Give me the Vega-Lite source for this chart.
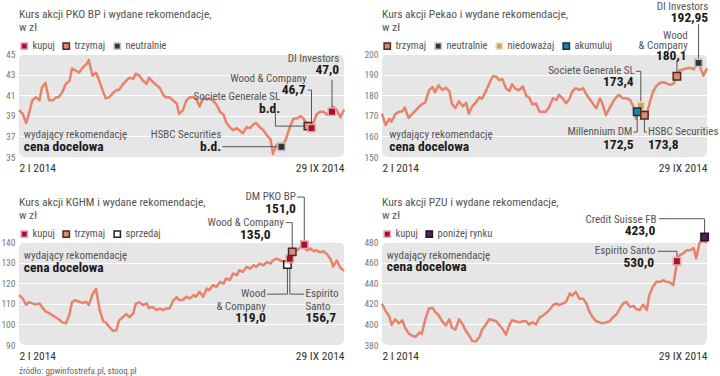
{
  "$schema": "https://vega.github.io/schema/vega-lite/v6.json",
  "padding": {"left": 0, "top": 1, "right": 0, "bottom": 0},
  "datasets": {
    "prices": [
      {"d":"2014-01-02","pko":39.55,"pekao":171.1,"kghm":114.2,"pzu":420},
      {"d":"2014-01-05","pko":39.2,"pekao":165.5,"kghm":112.6,"pzu":413},
      {"d":"2014-01-08","pko":38.3,"pekao":168.5,"kghm":109.5,"pzu":408},
      {"d":"2014-01-10","pko":39.1,"pekao":167.2,"kghm":110.8,"pzu":399.5},
      {"d":"2014-01-13","pko":40.5,"pekao":170.8,"kghm":110.2,"pzu":405},
      {"d":"2014-01-16","pko":40.8,"pekao":172,"kghm":109.7,"pzu":401},
      {"d":"2014-01-19","pko":40.5,"pekao":172.2,"kghm":110.2,"pzu":404},
      {"d":"2014-01-21","pko":41.7,"pekao":174,"kghm":108.5,"pzu":397},
      {"d":"2014-01-24","pko":42.2,"pekao":169,"kghm":106.3,"pzu":391.5},
      {"d":"2014-01-27","pko":40.5,"pekao":170.8,"kghm":105.5,"pzu":389},
      {"d":"2014-01-30","pko":40.5,"pekao":172.6,"kghm":104.3,"pzu":388},
      {"d":"2014-02-02","pko":40.8,"pekao":174.6,"kghm":103.2,"pzu":392},
      {"d":"2014-02-04","pko":40.8,"pekao":175.5,"kghm":102.5,"pzu":391},
      {"d":"2014-02-07","pko":41.3,"pekao":176.5,"kghm":101,"pzu":405},
      {"d":"2014-02-10","pko":42.1,"pekao":182.3,"kghm":100.5,"pzu":415.5},
      {"d":"2014-02-13","pko":42.4,"pekao":184,"kghm":105,"pzu":416},
      {"d":"2014-02-15","pko":43.6,"pekao":181.5,"kghm":110.8,"pzu":412.5},
      {"d":"2014-02-18","pko":43.4,"pekao":184.8,"kghm":111.8,"pzu":409},
      {"d":"2014-02-21","pko":43.2,"pekao":182.5,"kghm":111,"pzu":403},
      {"d":"2014-02-24","pko":43.7,"pekao":183.6,"kghm":110.4,"pzu":399},
      {"d":"2014-02-27","pko":44.0,"pekao":182,"kghm":111,"pzu":405},
      {"d":"2014-03-01","pko":44.4,"pekao":175.8,"kghm":109.4,"pzu":397},
      {"d":"2014-03-04","pko":42.9,"pekao":173.8,"kghm":114.5,"pzu":395},
      {"d":"2014-03-07","pko":43.2,"pekao":177,"kghm":117.2,"pzu":405},
      {"d":"2014-03-10","pko":42.3,"pekao":174.6,"kghm":107,"pzu":400},
      {"d":"2014-03-13","pko":41.3,"pekao":176.3,"kghm":101.5,"pzu":393},
      {"d":"2014-03-15","pko":40.7,"pekao":171,"kghm":101,"pzu":390},
      {"d":"2014-03-18","pko":40.8,"pekao":174.6,"kghm":98.8,"pzu":384},
      {"d":"2014-03-21","pko":41.2,"pekao":176.6,"kghm":96.8,"pzu":383.5},
      {"d":"2014-03-24","pko":41.5,"pekao":179,"kghm":97.3,"pzu":388},
      {"d":"2014-03-26","pko":41.5,"pekao":178.2,"kghm":101.8,"pzu":394.5},
      {"d":"2014-03-29","pko":42.0,"pekao":181.6,"kghm":103.4,"pzu":399.5},
      {"d":"2014-04-01","pko":42.4,"pekao":185.5,"kghm":105,"pzu":405},
      {"d":"2014-04-04","pko":42.7,"pekao":189.2,"kghm":103.5,"pzu":404},
      {"d":"2014-04-07","pko":42.6,"pekao":189,"kghm":105.5,"pzu":403},
      {"d":"2014-04-09","pko":43.1,"pekao":187.4,"kghm":110,"pzu":400},
      {"d":"2014-04-12","pko":42.9,"pekao":187.8,"kghm":110.8,"pzu":396},
      {"d":"2014-04-15","pko":42.4,"pekao":183.3,"kghm":109.4,"pzu":390},
      {"d":"2014-04-18","pko":42.1,"pekao":182.1,"kghm":110.2,"pzu":400},
      {"d":"2014-04-20","pko":42.7,"pekao":185.3,"kghm":107.9,"pzu":404},
      {"d":"2014-04-23","pko":42.3,"pekao":183,"kghm":108.5,"pzu":403},
      {"d":"2014-04-26","pko":42.0,"pekao":182.4,"kghm":107,"pzu":402},
      {"d":"2014-04-29","pko":41.7,"pekao":184.3,"kghm":107.7,"pzu":403},
      {"d":"2014-05-02","pko":41.0,"pekao":179.5,"kghm":107,"pzu":403},
      {"d":"2014-05-04","pko":40.8,"pekao":179.2,"kghm":107.7,"pzu":400},
      {"d":"2014-05-07","pko":40.8,"pekao":175.5,"kghm":107.7,"pzu":402},
      {"d":"2014-05-10","pko":40.5,"pekao":176,"kghm":111.5,"pzu":400},
      {"d":"2014-05-13","pko":40.2,"pekao":171.8,"kghm":113.2,"pzu":407},
      {"d":"2014-05-15","pko":39.2,"pekao":172,"kghm":111.8,"pzu":408},
      {"d":"2014-05-18","pko":39.5,"pekao":172,"kghm":111.8,"pzu":410.6},
      {"d":"2014-05-21","pko":40.5,"pekao":174.4,"kghm":113.4,"pzu":413.9},
      {"d":"2014-05-24","pko":40.8,"pekao":178.5,"kghm":112.6,"pzu":418.7},
      {"d":"2014-05-27","pko":40.8,"pekao":177.7,"kghm":114.2,"pzu":420.3},
      {"d":"2014-05-29","pko":40.7,"pekao":180.2,"kghm":113.4,"pzu":418.7},
      {"d":"2014-06-01","pko":39.9,"pekao":178.5,"kghm":115.8,"pzu":420.3},
      {"d":"2014-06-04","pko":40.7,"pekao":176.1,"kghm":113.4,"pzu":421.9},
      {"d":"2014-06-07","pko":40.6,"pekao":178.5,"kghm":117.4,"pzu":430},
      {"d":"2014-06-09","pko":40.7,"pekao":181.8,"kghm":116.6,"pzu":428},
      {"d":"2014-06-12","pko":40.5,"pekao":183.4,"kghm":119,"pzu":431.6},
      {"d":"2014-06-15","pko":40.1,"pekao":182.6,"kghm":118.2,"pzu":425},
      {"d":"2014-06-18","pko":39.4,"pekao":183.4,"kghm":120.6,"pzu":425},
      {"d":"2014-06-21","pko":39.1,"pekao":180.2,"kghm":119.8,"pzu":420},
      {"d":"2014-06-23","pko":38.4,"pekao":178.5,"kghm":122.3,"pzu":413},
      {"d":"2014-06-26","pko":37.9,"pekao":176.1,"kghm":121.5,"pzu":407},
      {"d":"2014-06-29","pko":37.6,"pekao":173.6,"kghm":124.7,"pzu":403},
      {"d":"2014-07-02","pko":37.8,"pekao":178.5,"kghm":123.9,"pzu":402},
      {"d":"2014-07-04","pko":37.6,"pekao":176.1,"kghm":126.3,"pzu":401},
      {"d":"2014-07-07","pko":37.3,"pekao":170.3,"kghm":125.5,"pzu":402},
      {"d":"2014-07-10","pko":37.9,"pekao":173.6,"kghm":127.9,"pzu":403},
      {"d":"2014-07-13","pko":37.8,"pekao":176.9,"kghm":127.1,"pzu":407},
      {"d":"2014-07-16","pko":38.2,"pekao":179.3,"kghm":128.7,"pzu":410},
      {"d":"2014-07-18","pko":38.3,"pekao":180.2,"kghm":127.9,"pzu":414},
      {"d":"2014-07-21","pko":37.9,"pekao":178.5,"kghm":129.5,"pzu":420},
      {"d":"2014-07-24","pko":37.6,"pekao":178.5,"kghm":128.7,"pzu":422},
      {"d":"2014-07-27","pko":37.1,"pekao":177.7,"kghm":130.3,"pzu":417},
      {"d":"2014-07-30","pko":36.7,"pekao":174.4,"kghm":129.5,"pzu":418},
      {"d":"2014-08-01","pko":35.3,"pekao":168.5,"kghm":131.1,"pzu":415},
      {"d":"2014-08-04","pko":36.2,"pekao":174.5,"kghm":131.9,"pzu":414},
      {"d":"2014-08-07","pko":36.0,"pekao":173,"kghm":131.1,"pzu":419},
      {"d":"2014-08-10","pko":36.3,"pekao":170.5,"kghm":130.3,"pzu":414},
      {"d":"2014-08-12","pko":36.8,"pekao":175.5,"kghm":129,"pzu":428},
      {"d":"2014-08-15","pko":37.9,"pekao":181.5,"kghm":132,"pzu":436.5},
      {"d":"2014-08-18","pko":38.75,"pekao":184.5,"kghm":136,"pzu":441.3},
      {"d":"2014-08-21","pko":38.75,"pekao":186,"kghm":136,"pzu":441.3},
      {"d":"2014-08-24","pko":38.97,"pekao":186.3,"kghm":137.5,"pzu":442.9},
      {"d":"2014-08-26","pko":38.75,"pekao":185.9,"kghm":138.4,"pzu":441.3},
      {"d":"2014-08-29","pko":38.3,"pekao":185,"kghm":136,"pzu":441},
      {"d":"2014-09-01","pko":38.1,"pekao":185.5,"kghm":136.8,"pzu":438},
      {"d":"2014-09-04","pko":38.4,"pekao":188.5,"kghm":135.5,"pzu":460},
      {"d":"2014-09-06","pko":39.1,"pekao":192,"kghm":136,"pzu":467},
      {"d":"2014-09-09","pko":39.4,"pekao":192.5,"kghm":135,"pzu":468.7},
      {"d":"2014-09-12","pko":39.4,"pekao":193,"kghm":135.5,"pzu":471.9},
      {"d":"2014-09-15","pko":39.1,"pekao":193.3,"kghm":134,"pzu":471.9},
      {"d":"2014-09-18","pko":39.5,"pekao":192.5,"kghm":131.5,"pzu":474},
      {"d":"2014-09-20","pko":39.9,"pekao":195,"kghm":128,"pzu":464},
      {"d":"2014-09-23","pko":39.55,"pekao":194,"kghm":131,"pzu":480},
      {"d":"2014-09-26","pko":38.85,"pekao":189.5,"kghm":127.5,"pzu":481},
      {"d":"2014-09-29","pko":39.6,"pekao":193,"kghm":126,"pzu":479}
    ],
    "recs": [
      {"s":"PKO BP","firm":"HSBC Securities","rec":"neutralnie","d":"2014-08-08","v":36.0},
      {"s":"PKO BP","firm":"Societe Generale SL","rec":"trzymaj","d":"2014-08-30","v":38.0},
      {"s":"PKO BP","firm":"Wood & Company","rec":"kupuj","d":"2014-09-02","v":37.8},
      {"s":"PKO BP","firm":"DI Investors","rec":"kupuj","d":"2014-09-19","v":39.4},
      {"s":"Pekao","firm":"Societe Generale SL","rec":"niedoważaj","d":"2014-08-05","v":174.9},
      {"s":"Pekao","firm":"Millennium DM","rec":"akumuluj","d":"2014-08-02","v":172.0},
      {"s":"Pekao","firm":"HSBC Securities","rec":"trzymaj","d":"2014-08-08","v":170.3},
      {"s":"Pekao","firm":"Wood & Company","rec":"trzymaj","d":"2014-09-04","v":189.2},
      {"s":"Pekao","firm":"DI Investors","rec":"neutralnie","d":"2014-09-22","v":195.7},
      {"s":"KGHM","firm":"Wood & Company","rec":"sprzedaj","d":"2014-08-13","v":129.0},
      {"s":"KGHM","firm":"Espirito Santo","rec":"kupuj","d":"2014-08-15","v":131.9},
      {"s":"KGHM","firm":"Wood & Company","rec":"trzymaj","d":"2014-08-17","v":135.2},
      {"s":"KGHM","firm":"DM PKO BP","rec":"kupuj","d":"2014-08-27","v":138.7},
      {"s":"PZU","firm":"Espirito Santo","rec":"kupuj","d":"2014-09-04","v":461.3},
      {"s":"PZU","firm":"Credit Suisse FB","rec":"poniżej rynku","d":"2014-09-27","v":484.8}
    ],
    "leaders": [
      {"s":"PKO BP","d":"2014-06-20","v":36.0,"d2":"2014-08-08","v2":36.0},
      {"s":"PKO BP","d":"2014-08-03","v":39.25,"d2":"2014-08-03","v2":38.0},
      {"s":"PKO BP","d":"2014-08-03","v":38.0,"d2":"2014-08-30","v2":38.0},
      {"s":"PKO BP","d":"2014-08-30","v":41.5,"d2":"2014-09-02","v2":41.5},
      {"s":"PKO BP","d":"2014-09-02","v":41.5,"d2":"2014-09-02","v2":37.8},
      {"s":"PKO BP","d":"2014-09-19","v":42.5,"d2":"2014-09-19","v2":39.4},
      {"s":"Pekao","d":"2014-09-22","v":214.5,"d2":"2014-09-22","v2":195.7},
      {"s":"Pekao","d":"2014-09-04","v":196.9,"d2":"2014-09-04","v2":189.2},
      {"s":"Pekao","d":"2014-08-01","v":191.6,"d2":"2014-08-05","v2":191.6},
      {"s":"Pekao","d":"2014-08-05","v":191.6,"d2":"2014-08-05","v2":174.9},
      {"s":"Pekao","d":"2014-07-30","v":162.1,"d2":"2014-08-02","v2":162.1},
      {"s":"Pekao","d":"2014-08-02","v":162.1,"d2":"2014-08-02","v2":172.0},
      {"s":"Pekao","d":"2014-08-08","v":170.3,"d2":"2014-08-08","v2":162.1},
      {"s":"Pekao","d":"2014-08-08","v":162.1,"d2":"2014-08-10","v2":162.1},
      {"s":"KGHM","d":"2014-08-21","v":161.8,"d2":"2014-08-27","v2":161.8},
      {"s":"KGHM","d":"2014-08-27","v":161.8,"d2":"2014-08-27","v2":138.7},
      {"s":"KGHM","d":"2014-08-12","v":149.4,"d2":"2014-08-17","v2":149.4},
      {"s":"KGHM","d":"2014-08-17","v":149.4,"d2":"2014-08-17","v2":135.2},
      {"s":"KGHM","d":"2014-07-27","v":114.7,"d2":"2014-08-13","v2":114.7},
      {"s":"KGHM","d":"2014-08-13","v":114.7,"d2":"2014-08-13","v2":129.0},
      {"s":"KGHM","d":"2014-08-15","v":131.9,"d2":"2014-08-15","v2":114.7},
      {"s":"KGHM","d":"2014-08-15","v":114.7,"d2":"2014-08-27","v2":114.7},
      {"s":"PZU","d":"2014-08-20","v":502.6,"d2":"2014-09-27","v2":502.6},
      {"s":"PZU","d":"2014-09-27","v":502.6,"d2":"2014-09-27","v2":484.8},
      {"s":"PZU","d":"2014-08-19","v":471,"d2":"2014-09-04","v2":471},
      {"s":"PZU","d":"2014-09-04","v":471,"d2":"2014-09-04","v2":461.3}
    ],
    "labels": [
      {"s":"PKO BP","t":"DI Investors","d":"2014-09-25","v":44.5,"kind":"firm","anchor":"right"},
      {"s":"PKO BP","t":"47,0","d":"2014-09-25","v":43.4,"kind":"price","anchor":"right"},
      {"s":"PKO BP","t":"Wood & Company","d":"2014-08-29","v":42.6,"kind":"firm","anchor":"right"},
      {"s":"PKO BP","t":"46,7","d":"2014-08-28","v":41.5,"kind":"price","anchor":"right"},
      {"s":"PKO BP","t":"Societe Generale SL","d":"2014-08-07","v":40.85,"kind":"firm","anchor":"right"},
      {"s":"PKO BP","t":"b.d.","d":"2014-08-07","v":39.7,"kind":"price","anchor":"right"},
      {"s":"PKO BP","t":"HSBC Securities","d":"2014-06-19","v":37.15,"kind":"firm","anchor":"right"},
      {"s":"PKO BP","t":"b.d.","d":"2014-06-19","v":36.0,"kind":"price","anchor":"right"},
      {"s":"PKO BP","t":"wydający rekomendację","d":"2014-01-06","v":37.15,"kind":"firm","anchor":"left"},
      {"s":"PKO BP","t":"cena docelowa","d":"2014-01-06","v":36.0,"kind":"price","anchor":"left"},
      {"s":"Pekao","t":"DI Investors","d":"2014-09-30","v":222.6,"kind":"firm","anchor":"right"},
      {"s":"Pekao","t":"192,95","d":"2014-09-30","v":217.4,"kind":"price","anchor":"right"},
      {"s":"Pekao","t":"Wood","d":"2014-09-13","v":208.9,"kind":"firm","anchor":"right"},
      {"s":"Pekao","t":"& Company","d":"2014-09-13","v":203.7,"kind":"firm","anchor":"right"},
      {"s":"Pekao","t":"180,1","d":"2014-09-12","v":199.2,"kind":"price","anchor":"right"},
      {"s":"Pekao","t":"Societe Generale SL","d":"2014-07-31","v":191.6,"kind":"firm","anchor":"right"},
      {"s":"Pekao","t":"173,4","d":"2014-07-30","v":186.3,"kind":"price","anchor":"right"},
      {"s":"Pekao","t":"Millennium DM","d":"2014-07-29","v":162.1,"kind":"firm","anchor":"right"},
      {"s":"Pekao","t":"172,5","d":"2014-07-30","v":155.6,"kind":"price","anchor":"right"},
      {"s":"Pekao","t":"HSBC Securities","d":"2014-08-11","v":162.1,"kind":"firm","anchor":"left"},
      {"s":"Pekao","t":"173,8","d":"2014-08-11","v":155.6,"kind":"price","anchor":"left"},
      {"s":"Pekao","t":"wydający rekomendację","d":"2014-01-08","v":160.5,"kind":"firm","anchor":"left"},
      {"s":"Pekao","t":"cena docelowa","d":"2014-01-08","v":154.8,"kind":"price","anchor":"left"},
      {"s":"KGHM","t":"DM PKO BP","d":"2014-08-20","v":161.8,"kind":"firm","anchor":"right"},
      {"s":"KGHM","t":"151,0","d":"2014-08-20","v":156.1,"kind":"price","anchor":"right"},
      {"s":"KGHM","t":"Wood & Company","d":"2014-08-10","v":149.4,"kind":"firm","anchor":"right"},
      {"s":"KGHM","t":"135,0","d":"2014-07-30","v":143.5,"kind":"price","anchor":"right"},
      {"s":"KGHM","t":"Wood","d":"2014-07-26","v":114.7,"kind":"firm","anchor":"right"},
      {"s":"KGHM","t":"& Company","d":"2014-07-26","v":108.5,"kind":"firm","anchor":"right"},
      {"s":"KGHM","t":"119,0","d":"2014-07-26","v":102.9,"kind":"price","anchor":"right"},
      {"s":"KGHM","t":"Espirito","d":"2014-08-28","v":114.7,"kind":"firm","anchor":"left"},
      {"s":"KGHM","t":"Santo","d":"2014-08-28","v":108.5,"kind":"firm","anchor":"left"},
      {"s":"KGHM","t":"156,7","d":"2014-08-28","v":102.9,"kind":"price","anchor":"left"},
      {"s":"KGHM","t":"wydający rekomendację","d":"2014-01-06","v":133.2,"kind":"firm","anchor":"left"},
      {"s":"KGHM","t":"cena docelowa","d":"2014-01-06","v":127.4,"kind":"price","anchor":"left"},
      {"s":"PZU","t":"Credit Suisse FB","d":"2014-08-18","v":501.6,"kind":"firm","anchor":"right"},
      {"s":"PZU","t":"423,0","d":"2014-08-17","v":490.6,"kind":"price","anchor":"right"},
      {"s":"PZU","t":"Espirito Santo","d":"2014-08-17","v":471,"kind":"firm","anchor":"right"},
      {"s":"PZU","t":"530,0","d":"2014-08-16","v":460,"kind":"price","anchor":"right"},
      {"s":"PZU","t":"wydający rekomendację","d":"2014-01-06","v":466.5,"kind":"firm","anchor":"left"},
      {"s":"PZU","t":"cena docelowa","d":"2014-01-06","v":455.8,"kind":"price","anchor":"left"}
    ]
  },
  "title": {"text": "źródło: gpwinfostrefa.pl, stooq.pl", "orient": "bottom", "anchor": "start", "frame": "group", "fontSize": 9, "fontWeight": "normal", "color": "#666666", "offset": 5},
  "columns": 2,
  "spacing": {"row": 85, "column": 38},
  "bounds": "flush",
  "concat": [
    {
      "width": 325, "height": 103,
      "encoding": {
        "x": {"field": "d", "type": "temporal", "title": null,
          "scale": {"domain": [{"year": 2014, "month": 1, "date": 2, "utc": true}, {"year": 2014, "month": 9, "date": 29, "utc": true}]},
          "axis": {"values": [{"year": 2014, "month": 1, "date": 2, "utc": true}, {"year": 2014, "month": 9, "date": 29, "utc": true}],
            "labelExpr": "utcdate(datum.value) + ' ' + ['I','II','III','IV','V','VI','VII','VIII','IX','X','XI','XII'][utcmonth(datum.value)] + ' ' + utcyear(datum.value)",
            "labelFlush": 4}},
        "y": {"field": "v", "type": "quantitative", "title": null, "scale": {"domain": [35, 45], "nice": false, "zero": false}, "axis": {"values": [35, 37, 39, 41, 43, 45]}}
      },
      "layer": [
        {"data": {"name": "prices"}, "transform": [{"fold": ["pko"], "as": ["s", "v"]}], "mark": {"type": "line", "color": "#e8826a", "strokeWidth": 2.5, "strokeJoin": "round"}},
        {"data": {"name": "leaders"}, "transform": [{"filter": "datum.s == 'PKO BP'"}], "mark": {"type": "rule", "color": "#555555", "strokeWidth": 1}, "encoding": {"x2": {"field": "d2"}, "y2": {"field": "v2"}}},
        {"data": {"name": "recs"}, "transform": [{"filter": "datum.s == 'PKO BP'"}], "mark": {"type": "square", "size": 55, "strokeWidth": 1.5, "opacity": 1},
          "encoding": {
            "fill": {"field": "rec", "type": "nominal", "scale": {"domain": ["kupuj", "trzymaj", "neutralnie"], "range": ["#a3122f", "#d98b73", "#333333"]}, "legend": {"title": ["Kurs akcji PKO BP i wydane rekomendacje,", "w zł"], "orient": "none", "legendX": 0, "legendY": -45}},
            "stroke": {"field": "rec", "type": "nominal", "scale": {"domain": ["kupuj", "trzymaj", "neutralnie"], "range": ["#eaa2ab", "#4a2c24", "#c4c4c4"]}, "legend": {"title": ["Kurs akcji PKO BP i wydane rekomendacje,", "w zł"], "orient": "none", "legendX": 0, "legendY": -45}}
          }},
        {"data": {"name": "labels"}, "transform": [{"filter": "datum.s == 'PKO BP' && datum.kind == 'firm' && datum.anchor == 'right'"}], "mark": {"type": "text", "align": "right", "baseline": "middle", "fontSize": 11, "color": "#555555"}, "encoding": {"text": {"field": "t"}}},
        {"data": {"name": "labels"}, "transform": [{"filter": "datum.s == 'PKO BP' && datum.kind == 'firm' && datum.anchor == 'left'"}], "mark": {"type": "text", "align": "left", "baseline": "middle", "fontSize": 11, "color": "#555555"}, "encoding": {"text": {"field": "t"}}},
        {"data": {"name": "labels"}, "transform": [{"filter": "datum.s == 'PKO BP' && datum.kind == 'price' && datum.anchor == 'right'"}], "mark": {"type": "text", "align": "right", "baseline": "middle", "fontSize": 13.5, "fontWeight": "bold", "color": "#1a1a1a"}, "encoding": {"text": {"field": "t"}}},
        {"data": {"name": "labels"}, "transform": [{"filter": "datum.s == 'PKO BP' && datum.kind == 'price' && datum.anchor == 'left'"}], "mark": {"type": "text", "align": "left", "baseline": "middle", "fontSize": 13.5, "fontWeight": "bold", "color": "#1a1a1a"}, "encoding": {"text": {"field": "t"}}}
      ]
    },
    {
      "width": 325, "height": 103,
      "encoding": {
        "x": {"field": "d", "type": "temporal", "title": null,
          "scale": {"domain": [{"year": 2014, "month": 1, "date": 2, "utc": true}, {"year": 2014, "month": 9, "date": 29, "utc": true}]},
          "axis": {"values": [{"year": 2014, "month": 1, "date": 2, "utc": true}, {"year": 2014, "month": 9, "date": 29, "utc": true}],
            "labelExpr": "utcdate(datum.value) + ' ' + ['I','II','III','IV','V','VI','VII','VIII','IX','X','XI','XII'][utcmonth(datum.value)] + ' ' + utcyear(datum.value)",
            "labelFlush": 4}},
        "y": {"field": "v", "type": "quantitative", "title": null, "scale": {"domain": [150, 200], "nice": false, "zero": false}, "axis": {"values": [150, 160, 170, 180, 190, 200]}}
      },
      "layer": [
        {"data": {"name": "prices"}, "transform": [{"fold": ["pekao"], "as": ["s", "v"]}], "mark": {"type": "line", "color": "#e8826a", "strokeWidth": 2.5, "strokeJoin": "round"}},
        {"data": {"name": "leaders"}, "transform": [{"filter": "datum.s == 'Pekao'"}], "mark": {"type": "rule", "color": "#555555", "strokeWidth": 1}, "encoding": {"x2": {"field": "d2"}, "y2": {"field": "v2"}}},
        {"data": {"name": "recs"}, "transform": [{"filter": "datum.s == 'Pekao'"}], "mark": {"type": "square", "size": 55, "strokeWidth": 1.5, "opacity": 1},
          "encoding": {
            "fill": {"field": "rec", "type": "nominal", "scale": {"domain": ["trzymaj", "neutralnie", "niedoważaj", "akumuluj"], "range": ["#d98b73", "#333333", "#c9a466", "#1b84ad"]}, "legend": {"title": ["Kurs akcji Pekao i wydane rekomendacje,", "w zł"], "orient": "none", "legendX": 0, "legendY": -45}},
            "stroke": {"field": "rec", "type": "nominal", "scale": {"domain": ["trzymaj", "neutralnie", "niedoważaj", "akumuluj"], "range": ["#4a2c24", "#c4c4c4", "#efe0c0", "#12303f"]}, "legend": {"title": ["Kurs akcji Pekao i wydane rekomendacje,", "w zł"], "orient": "none", "legendX": 0, "legendY": -45}}
          }},
        {"data": {"name": "labels"}, "transform": [{"filter": "datum.s == 'Pekao' && datum.kind == 'firm' && datum.anchor == 'right'"}], "mark": {"type": "text", "align": "right", "baseline": "middle", "fontSize": 11, "color": "#555555"}, "encoding": {"text": {"field": "t"}}},
        {"data": {"name": "labels"}, "transform": [{"filter": "datum.s == 'Pekao' && datum.kind == 'firm' && datum.anchor == 'left'"}], "mark": {"type": "text", "align": "left", "baseline": "middle", "fontSize": 11, "color": "#555555"}, "encoding": {"text": {"field": "t"}}},
        {"data": {"name": "labels"}, "transform": [{"filter": "datum.s == 'Pekao' && datum.kind == 'price' && datum.anchor == 'right'"}], "mark": {"type": "text", "align": "right", "baseline": "middle", "fontSize": 13.5, "fontWeight": "bold", "color": "#1a1a1a"}, "encoding": {"text": {"field": "t"}}},
        {"data": {"name": "labels"}, "transform": [{"filter": "datum.s == 'Pekao' && datum.kind == 'price' && datum.anchor == 'left'"}], "mark": {"type": "text", "align": "left", "baseline": "middle", "fontSize": 13.5, "fontWeight": "bold", "color": "#1a1a1a"}, "encoding": {"text": {"field": "t"}}}
      ]
    },
    {
      "width": 325, "height": 103,
      "encoding": {
        "x": {"field": "d", "type": "temporal", "title": null,
          "scale": {"domain": [{"year": 2014, "month": 1, "date": 2, "utc": true}, {"year": 2014, "month": 9, "date": 29, "utc": true}]},
          "axis": {"values": [{"year": 2014, "month": 1, "date": 2, "utc": true}, {"year": 2014, "month": 9, "date": 29, "utc": true}],
            "labelExpr": "utcdate(datum.value) + ' ' + ['I','II','III','IV','V','VI','VII','VIII','IX','X','XI','XII'][utcmonth(datum.value)] + ' ' + utcyear(datum.value)",
            "labelFlush": 4}},
        "y": {"field": "v", "type": "quantitative", "title": null, "scale": {"domain": [90, 140], "nice": false, "zero": false}, "axis": {"values": [90, 100, 110, 120, 130, 140]}}
      },
      "layer": [
        {"data": {"name": "prices"}, "transform": [{"fold": ["kghm"], "as": ["s", "v"]}], "mark": {"type": "line", "color": "#e8826a", "strokeWidth": 2.5, "strokeJoin": "round"}},
        {"data": {"name": "leaders"}, "transform": [{"filter": "datum.s == 'KGHM'"}], "mark": {"type": "rule", "color": "#555555", "strokeWidth": 1}, "encoding": {"x2": {"field": "d2"}, "y2": {"field": "v2"}}},
        {"data": {"name": "recs"}, "transform": [{"filter": "datum.s == 'KGHM'"}], "mark": {"type": "square", "size": 55, "strokeWidth": 1.5, "opacity": 1},
          "encoding": {
            "fill": {"field": "rec", "type": "nominal", "scale": {"domain": ["kupuj", "trzymaj", "sprzedaj"], "range": ["#a3122f", "#d98b73", "#ffffff"]}, "legend": {"title": ["Kurs akcji KGHM i wydane rekomendacje,", "w zł"], "orient": "none", "legendX": 0, "legendY": -45}},
            "stroke": {"field": "rec", "type": "nominal", "scale": {"domain": ["kupuj", "trzymaj", "sprzedaj"], "range": ["#eaa2ab", "#4a2c24", "#222222"]}, "legend": {"title": ["Kurs akcji KGHM i wydane rekomendacje,", "w zł"], "orient": "none", "legendX": 0, "legendY": -45}}
          }},
        {"data": {"name": "labels"}, "transform": [{"filter": "datum.s == 'KGHM' && datum.kind == 'firm' && datum.anchor == 'right'"}], "mark": {"type": "text", "align": "right", "baseline": "middle", "fontSize": 11, "color": "#555555"}, "encoding": {"text": {"field": "t"}}},
        {"data": {"name": "labels"}, "transform": [{"filter": "datum.s == 'KGHM' && datum.kind == 'firm' && datum.anchor == 'left'"}], "mark": {"type": "text", "align": "left", "baseline": "middle", "fontSize": 11, "color": "#555555"}, "encoding": {"text": {"field": "t"}}},
        {"data": {"name": "labels"}, "transform": [{"filter": "datum.s == 'KGHM' && datum.kind == 'price' && datum.anchor == 'right'"}], "mark": {"type": "text", "align": "right", "baseline": "middle", "fontSize": 13.5, "fontWeight": "bold", "color": "#1a1a1a"}, "encoding": {"text": {"field": "t"}}},
        {"data": {"name": "labels"}, "transform": [{"filter": "datum.s == 'KGHM' && datum.kind == 'price' && datum.anchor == 'left'"}], "mark": {"type": "text", "align": "left", "baseline": "middle", "fontSize": 13.5, "fontWeight": "bold", "color": "#1a1a1a"}, "encoding": {"text": {"field": "t"}}}
      ]
    },
    {
      "width": 325, "height": 103,
      "encoding": {
        "x": {"field": "d", "type": "temporal", "title": null,
          "scale": {"domain": [{"year": 2014, "month": 1, "date": 2, "utc": true}, {"year": 2014, "month": 9, "date": 29, "utc": true}]},
          "axis": {"values": [{"year": 2014, "month": 1, "date": 2, "utc": true}, {"year": 2014, "month": 9, "date": 29, "utc": true}],
            "labelExpr": "utcdate(datum.value) + ' ' + ['I','II','III','IV','V','VI','VII','VIII','IX','X','XI','XII'][utcmonth(datum.value)] + ' ' + utcyear(datum.value)",
            "labelFlush": 4}},
        "y": {"field": "v", "type": "quantitative", "title": null, "scale": {"domain": [380, 480], "nice": false, "zero": false}, "axis": {"values": [380, 400, 420, 440, 460, 480]}}
      },
      "layer": [
        {"data": {"name": "prices"}, "transform": [{"fold": ["pzu"], "as": ["s", "v"]}], "mark": {"type": "line", "color": "#e8826a", "strokeWidth": 2.5, "strokeJoin": "round"}},
        {"data": {"name": "leaders"}, "transform": [{"filter": "datum.s == 'PZU'"}], "mark": {"type": "rule", "color": "#555555", "strokeWidth": 1}, "encoding": {"x2": {"field": "d2"}, "y2": {"field": "v2"}}},
        {"data": {"name": "recs"}, "transform": [{"filter": "datum.s == 'PZU'"}], "mark": {"type": "square", "size": 55, "strokeWidth": 1.5, "opacity": 1},
          "encoding": {
            "fill": {"field": "rec", "type": "nominal", "scale": {"domain": ["kupuj", "poniżej rynku"], "range": ["#a3122f", "#4b2450"]}, "legend": {"title": ["Kurs akcji PZU i wydane rekomendacje,", "w zł"], "orient": "none", "legendX": 0, "legendY": -45}},
            "stroke": {"field": "rec", "type": "nominal", "scale": {"domain": ["kupuj", "poniżej rynku"], "range": ["#eaa2ab", "#2a1030"]}, "legend": {"title": ["Kurs akcji PZU i wydane rekomendacje,", "w zł"], "orient": "none", "legendX": 0, "legendY": -45}}
          }},
        {"data": {"name": "labels"}, "transform": [{"filter": "datum.s == 'PZU' && datum.kind == 'firm' && datum.anchor == 'right'"}], "mark": {"type": "text", "align": "right", "baseline": "middle", "fontSize": 11, "color": "#555555"}, "encoding": {"text": {"field": "t"}}},
        {"data": {"name": "labels"}, "transform": [{"filter": "datum.s == 'PZU' && datum.kind == 'firm' && datum.anchor == 'left'"}], "mark": {"type": "text", "align": "left", "baseline": "middle", "fontSize": 11, "color": "#555555"}, "encoding": {"text": {"field": "t"}}},
        {"data": {"name": "labels"}, "transform": [{"filter": "datum.s == 'PZU' && datum.kind == 'price' && datum.anchor == 'right'"}], "mark": {"type": "text", "align": "right", "baseline": "middle", "fontSize": 13.5, "fontWeight": "bold", "color": "#1a1a1a"}, "encoding": {"text": {"field": "t"}}},
        {"data": {"name": "labels"}, "transform": [{"filter": "datum.s == 'PZU' && datum.kind == 'price' && datum.anchor == 'left'"}], "mark": {"type": "text", "align": "left", "baseline": "middle", "fontSize": 13.5, "fontWeight": "bold", "color": "#1a1a1a"}, "encoding": {"text": {"field": "t"}}}
      ]
    }
  ],
  "resolve": {
    "scale": {"x": "independent", "y": "independent", "fill": "independent", "stroke": "independent"},
    "axis": {"x": "independent", "y": "independent"},
    "legend": {"fill": "independent", "stroke": "independent"}
  },
  "config": {
    "font": "Liberation Sans Narrow, Roboto Condensed, DejaVu Sans Condensed, Arial Narrow, sans-serif",
    "view": {"fill": "#e6e6e6", "stroke": null, "cornerRadius": 6},
    "axis": {"ticks": false, "domain": false},
    "axisX": {"grid": false, "labelFontSize": 11.5, "labelColor": "#333333", "labelPadding": 5},
    "axisY": {"grid": true, "gridColor": "#ffffff", "gridWidth": 1, "labelFontSize": 9.5, "labelColor": "#777777", "labelPadding": 4},
    "legend": {
      "direction": "horizontal", "titleFontWeight": "normal", "titleFontSize": 11.5, "titleColor": "#555555",
      "titleLineHeight": 13, "titlePadding": 7, "titleLimit": 400, "labelFontSize": 10.5, "labelColor": "#555555",
      "symbolType": "square", "symbolSize": 40, "symbolStrokeWidth": 1.5, "columnPadding": 5, "labelOffset": 3, "padding": 0, "symbolOpacity": 1
    }
  }
}
